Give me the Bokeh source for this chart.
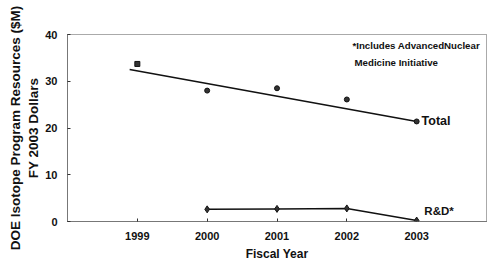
from bokeh.plotting import figure
from bokeh.models import Range1d, FixedTicker, Label
from bokeh.embed import file_html
from bokeh.resources import INLINE

years = [1999, 2000, 2001, 2002, 2003]
total = [33.7, 28.0, 28.5, 26.1, 21.4]
rd_years = [2000, 2001, 2002, 2003]
rd = [2.6, 2.7, 2.8, 0.2]
trend_x = [1998.89, 2003]
trend_y = [32.5, 21.4]
x_ticks = [1999, 2000, 2001, 2002, 2003]
y_ticks = [0, 10, 20, 30, 40]

FONT = "Liberation Sans, Arial, sans-serif"

p = figure(width=490, height=263, output_backend="svg", toolbar_location=None,
           x_range=Range1d(1998, 2004), y_range=Range1d(0, 40),
           min_border_left=67, min_border_right=4, min_border_top=34, min_border_bottom=42)
p.background_fill_color = "white"
p.border_fill_color = "white"
p.outline_line_color = "#555555"
p.outline_line_dash = "1 1"
p.outline_line_width = 1
p.xgrid.visible = False
p.ygrid.visible = False

for ax in (p.xaxis[0], p.yaxis[0]):
    ax.axis_line_color = "#444444"
    ax.axis_line_dash = "1 1"
    ax.major_tick_in = 3
    ax.major_tick_out = 0
    ax.minor_tick_line_color = None
    ax.major_tick_line_color = "#333333"
    ax.major_label_text_font = FONT
    ax.major_label_text_font_style = "bold"
    ax.major_label_text_font_size = "11px"
    ax.major_label_text_color = "#111111"
    ax.axis_label_text_font = FONT
    ax.axis_label_text_font_style = "bold"
    ax.axis_label_text_color = "#111111"

p.xaxis.ticker = FixedTicker(ticks=x_ticks)
p.yaxis.ticker = FixedTicker(ticks=y_ticks)
p.xaxis.major_label_standoff = 10
p.yaxis.major_label_standoff = 10
p.xaxis.axis_label = "Fiscal Year"
p.xaxis.axis_label_text_font_size = "12px"
p.xaxis.axis_label_standoff = 4
p.yaxis.axis_label = "DOE Isotope Program Resources ($M)\nFY 2003 Dollars"
p.yaxis.axis_label_text_font_size = "13.5px"
p.yaxis.axis_label_standoff = 1

p.line(trend_x, trend_y, line_color="#111111", line_width=1.6)
p.scatter(years[:1], total[:1], marker="square", size=5, fill_color="#333333", line_color="#111111")
p.scatter(years[1:], total[1:], marker="circle", size=5, fill_color="#333333", line_color="#111111")
p.line(rd_years, rd, line_color="#111111", line_width=1.5)
p.scatter(rd_years, rd, marker="diamond", size=7, fill_color="#333333", line_color="#111111")

for txt, x, y in [("*Includes AdvancedNuclear", 2002.08, 37.6),
                  ("Medicine Initiative", 2002.11, 34.1)]:
    p.add_layout(Label(x=x, y=y, text=txt, text_font=FONT, text_font_style="bold",
                       text_font_size="9.7px", text_color="#111111", text_baseline="middle"))
p.add_layout(Label(x=2003.07, y=21.4, text="Total", text_font=FONT, text_font_style="bold",
                   text_font_size="12.5px", text_color="#111111", text_baseline="middle"))
p.add_layout(Label(x=2003.11, y=2.35, text="R&D*", text_font=FONT, text_font_style="bold",
                   text_font_size="11.5px", text_color="#111111", text_baseline="middle"))

open("out.html", "w").write(file_html(p, INLINE))
